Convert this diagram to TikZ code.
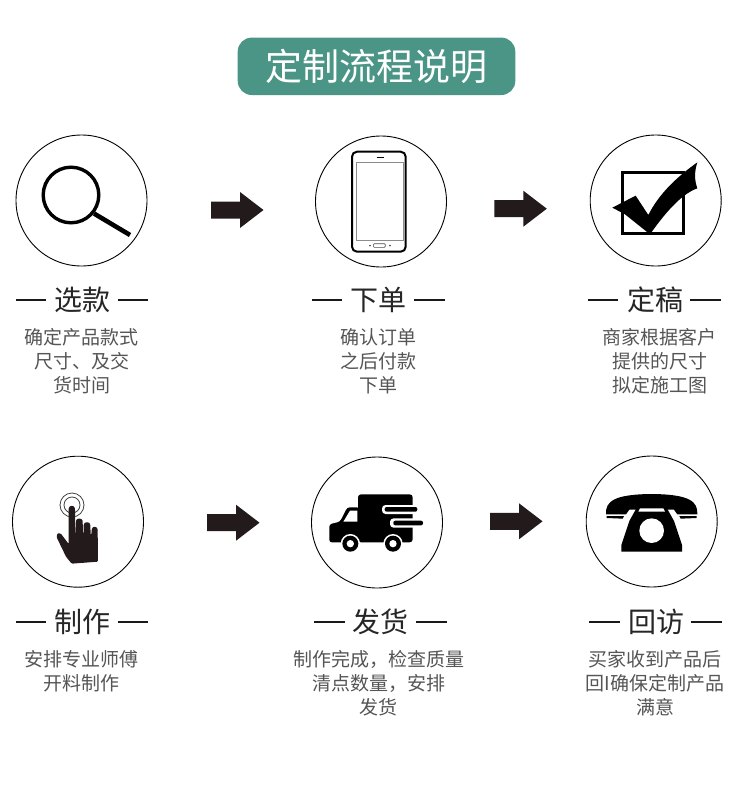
\documentclass[tikz,border=0pt]{standalone}
\usepackage{fontspec}
\setmainfont{Noto Sans CJK SC}
\definecolor{teal1}{HTML}{4A9586}
\definecolor{ink}{HTML}{231A1C}
\definecolor{bodygray}{HTML}{555555}
\tikzset{
  x=1pt,y=-1pt,
  ringc/.style={draw=black,line width=0.9pt,circle,minimum size=131pt,inner sep=0pt},
  heading/.style={text=black!85,font=\fontsize{28}{30}\selectfont,inner sep=0pt},
  bodytext/.style={text=bodygray,align=center,font=\fontsize{19}{24}\selectfont,inner sep=0pt},
  rule/.style={line width=2.2pt,draw=black!90},
  titlebox/.style={fill=teal1,rounded corners=14pt,minimum width=277.6pt,minimum height=57.4pt,inner sep=0pt,text=white,font=\fontsize{37}{40}\selectfont},
  blockarrow/.pic={\fill[ink] (-52.5,-8.5) -- (-23.5,-8.5) -- (-23.5,-18) -- (0,0) -- (-23.5,18) -- (-23.5,8.5) -- (-52.5,8.5) -- cycle;}
}
\begin{document}
\begin{tikzpicture}
\useasboundingbox (0,0) rectangle (750,806);
\fill[white] (0,0) rectangle (750,806);

\node[titlebox] (title) at (376.5,66.3) {定制流程说明};

% circles
\node[ringc] (c1) at (81.5,200.5) {};
\node[ringc] (c2) at (381,201.5) {};
\node[ringc] (c3) at (655.7,200.5) {};
\node[ringc] (c4) at (78,521.7) {};
\node[ringc] (c5) at (377,522.5) {};
\node[ringc] (c6) at (651.7,521.5) {};

% block arrows
\pic at (263.5,210) {blockarrow};
\pic at (546.8,208.7) {blockarrow};
\pic at (259.5,522.7) {blockarrow};
\pic at (542.5,521.3) {blockarrow};

% magnifier
\draw[black,line width=3.4pt] (71,195) circle (27.8);
\draw[black,line width=4.6pt] (94,213.5) -- (130,235);

% phone
\draw[black,line width=2pt,rounded corners=5pt] (352,151.7) rectangle (405.7,251.7);
\draw[black!45,line width=0.8pt] (356.7,162) rectangle (403.3,240.7);
\draw[black,line width=1.6pt] (376.7,157.5) -- (384,157.5);
\draw[black!70,line width=0.6pt,rounded corners=1pt] (373.3,243.7) rectangle (385.3,247.3);
\fill[black] (370,245.6) circle (0.8) (390,245.6) circle (0.8);

% check box
\begin{scope}[shift={(605,155)},x=0.33333pt,y=-0.33333pt]
\draw[black,line width=3pt] (51,51) rectangle (234,234);
\fill[black] (22,158) -- (92,122) -- (130,180) .. controls (160,120) and (210,70) .. (277,22)
  .. controls (268,50) and (268,75) .. (277,100)
  .. controls (235,115) and (190,160) .. (135,238) -- (60,178) -- cycle;
\end{scope}

% hand
\draw[black!75,line width=0.8pt] (72,505) circle (12) (72,505) circle (8);
\begin{scope}[shift={(0,450)},x=0.33333pt,y=-0.33333pt]
\fill[ink,rounded corners=1pt] (172,250) -- (182,250) -- (206,282) -- (206,178)
  .. controls (207,165) and (224,165) .. (225,178)
  -- (226,250) -- (228,250) -- (228,214) .. controls (230,204) and (246,204) .. (248,214)
  -- (249,250) -- (251,250) -- (251,225) .. controls (253,215) and (269,215) .. (271,225)
  -- (272,255) -- (274,255) -- (275,240) .. controls (277,228) and (291,228) .. (293,240)
  -- (294,335) -- (215,341) -- (198,320) -- (170,262) -- cycle;
\end{scope}

% truck
\begin{scope}[shift={(322,485)},x=0.33333pt,y=-0.33333pt]
\fill[black,rounded corners=3pt] (108,28) -- (272,28) -- (272,172) -- (108,172) -- cycle;
\fill[black,rounded corners=2.5pt] (112,67) -- (76,67) -- (54,110) -- (22,118) -- (22,172) -- (112,172) -- cycle;
\fill[white] (84,77) -- (106,77) -- (106,110) -- (64,110) -- cycle;
\fill[white,rounded corners=3.5pt] (180,60) rectangle (300,87);
\fill[white,rounded corners=3.5pt] (204,100) rectangle (312,128);
\fill[white] (272,85) rectangle (290,102);
\fill[black,rounded corners=2pt] (188,66) rectangle (286,80);
\fill[black,rounded corners=2pt] (214,107) rectangle (303,121);
\fill[white] (85,176) circle (29) (213,176) circle (29);
\fill[black] (85,176) circle (24) (213,176) circle (24);
\fill[white] (85,176) circle (11) (213,176) circle (11);
\end{scope}

% telephone
\begin{scope}[shift={(600,485)},x=0.33333pt,y=-0.33333pt]
\fill[black] (18,88) .. controls (16,50) and (40,28) .. (155,27)
  .. controls (270,28) and (294,50) .. (292,88) -- (232,88) -- (222,74) -- (88,74) -- (78,88) -- cycle;
\fill[black] (20,93) -- (72,93) -- (68,101) -- (20,99) -- cycle;
\fill[black] (290,93) -- (238,93) -- (242,101) -- (290,99) -- cycle;
\fill[black] (108,72) -- (202,72) -- (222,108) -- (246,180) -- (246,200) -- (64,200) -- (64,180) -- (88,108) -- cycle;
\fill[white] (120,70) -- (190,70) -- (195,80) -- (115,80) -- cycle;
\fill[white] (155,137) circle (37);
\end{scope}

% headings
\node[heading] (h1) at (82,300) {选款};
\node[heading] (h2) at (378.5,300) {下单};
\node[heading] (h3) at (655,300) {定稿};
\node[heading] (h4) at (82,622) {制作};
\node[heading] (h5) at (380.5,622) {发货};
\node[heading] (h6) at (656,622) {回访};

\draw[rule] (16,300.3) -- (46,300.3) (118,300.3) -- (148,300.3);
\draw[rule] (312,300.3) -- (342,300.3) (414,300.3) -- (445,300.3);
\draw[rule] (588,300.3) -- (618,300.3) (690,300.3) -- (721,300.3);
\draw[rule] (16,622.3) -- (46,622.3) (118,622.3) -- (148,622.3);
\draw[rule] (314,622.3) -- (345,622.3) (416,622.3) -- (447,622.3);
\draw[rule] (589,622.3) -- (620,622.3) (691,622.3) -- (722,622.3);

% descriptions
\node[bodytext] (t1) at (81.5,361) {确定产品款式\\尺寸、及交\\货时间};
\node[bodytext] (t2) at (378,361) {确认订单\\之后付款\\下单};
\node[bodytext] (t3) at (659.5,361) {商家根据客户\\提供的尺寸\\拟定施工图};
\node[bodytext] (t4) at (81.5,671) {安排专业师傅\\开料制作};
\node[bodytext] (t5) at (378.5,683) {制作完成，检查质量\\清点数量，安排\\发货};
\node[bodytext] (t6) at (655,683) {买家收到产品后\\回I确保定制产品\\满意};
\end{tikzpicture}
\end{document}
